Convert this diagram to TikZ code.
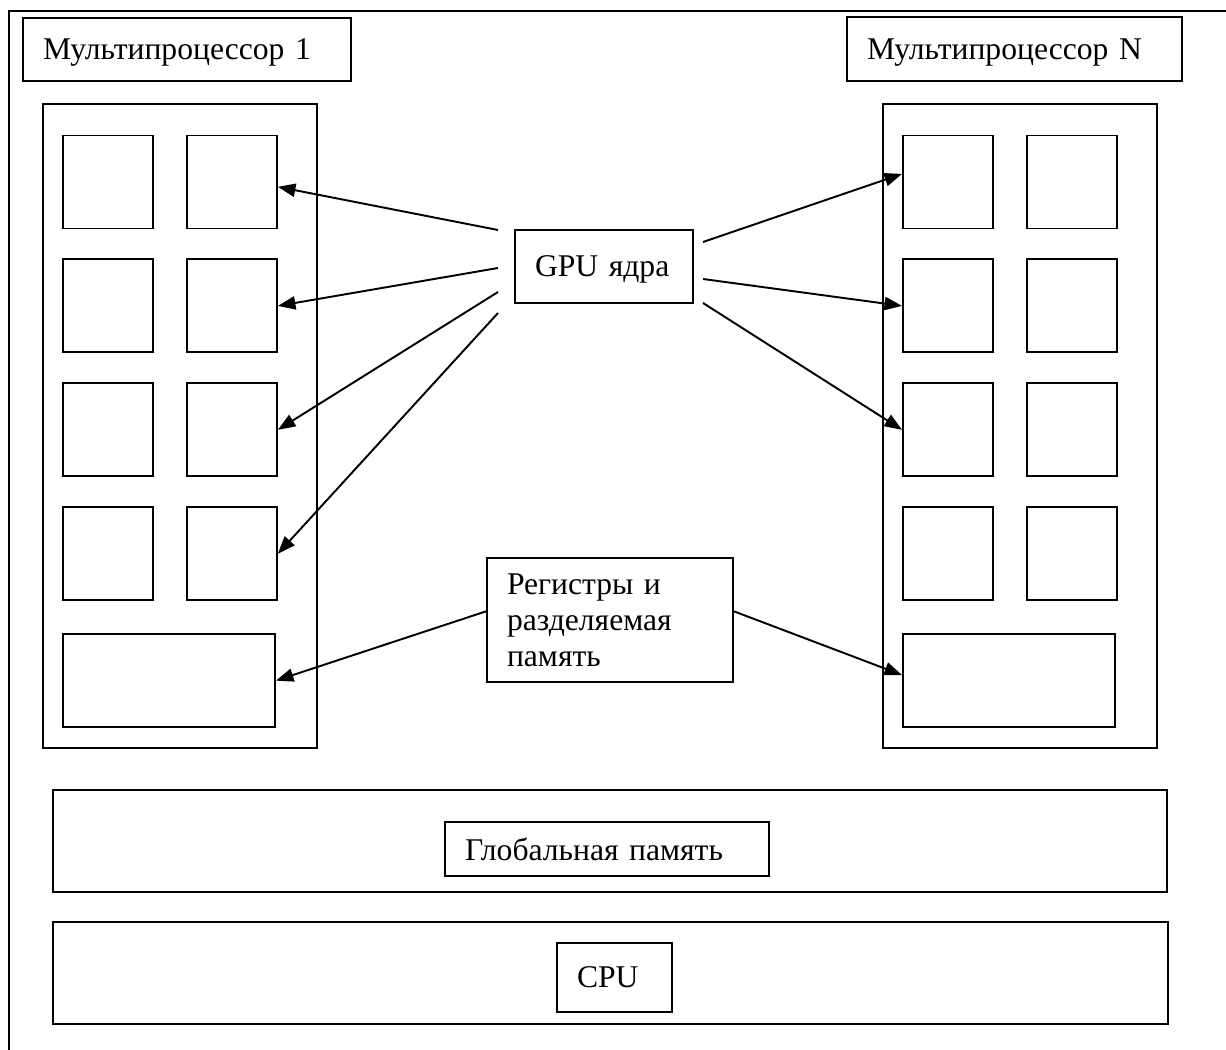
\documentclass[tikz,border=0pt]{standalone}
\usepackage{fontspec}
\setmainfont{Liberation Serif}
\usetikzlibrary{positioning}
\usetikzlibrary{arrows.meta}
\tikzstyle{arrow} = [line width=1.1pt,-{Triangle[length=10pt,width=7.5pt]}]
\tikzstyle{box} = [draw,line width=1.1pt,rectangle,inner sep=0pt]
\tikzstyle{title} = [draw,line width=1.1pt,rectangle,inner xsep=0.4cm,inner ysep=0pt,text depth=0pt,align=left,font=\fontsize{18}{20.5}\selectfont]
\tikzstyle{core} = [box,minimum width=1.8cm,minimum height=1.86cm]

\begin{document}
\begin{tikzpicture}[x=0.02cm,y=-0.02cm]
	\useasboundingbox (0,0) rectangle (1226,1050);
	
	%Frame
	\draw[line width=1.1pt] (9,1050) -- (9,11) -- (1226,11);
	
	%Nodes
	\node[title,text width=5.76cm,minimum height=1.26cm] (mpOne) at (187,49.5) {Мультипроцессор 1};
	\node[title,text width=5.9cm,minimum height=1.28cm] (mpN) at (1014.5,49) {Мультипроцессор N};
	\node[box,minimum width=5.48cm,minimum height=12.88cm] (leftMP) at (180,426) {};
	\node[box,minimum width=5.48cm,minimum height=12.88cm] (rightMP) at (1020,426) {};
	\node[title,text width=2.76cm,minimum height=1.46cm] (gpu) at (604,266.5) {GPU ядра};
	\node[title,text width=4.12cm,minimum height=2.48cm,text depth=] (reg) at (610,620) {Регистры и\\разделяемая\\память};
	
	%Cores left
	\node[core] (l11) at (108,182) {};
	\node[core,right=0.64cm of l11] (l12) {};
	\node[core,below=0.58cm of l11] (l21) {};
	\node[core,right=0.64cm of l21] (l22) {};
	\node[core,below=0.58cm of l21] (l31) {};
	\node[core,right=0.64cm of l31] (l32) {};
	\node[core,below=0.58cm of l31] (l41) {};
	\node[core,right=0.64cm of l41] (l42) {};
	\node[box,minimum width=4.24cm,minimum height=1.86cm,below right=0.64cm and 0cm of l41.south west] (lMem) {};
	
	%Cores right
	\node[core] (r11) at (948,182) {};
	\node[core,right=0.64cm of r11] (r12) {};
	\node[core,below=0.58cm of r11] (r21) {};
	\node[core,right=0.64cm of r21] (r22) {};
	\node[core,below=0.58cm of r21] (r31) {};
	\node[core,right=0.64cm of r31] (r32) {};
	\node[core,below=0.58cm of r31] (r41) {};
	\node[core,right=0.64cm of r41] (r42) {};
	\node[box,minimum width=4.24cm,minimum height=1.86cm,below right=0.64cm and 0cm of r41.south west] (rMem) {};
	
	%Memory and CPU
	\node[box,minimum width=22.28cm,minimum height=2.04cm] (globalMem) at (610,841) {};
	\node[title,text width=5.68cm,minimum height=1.08cm] (globalLbl) at (607,849) {Глобальная память};
	\node[box,minimum width=22.3cm,minimum height=2.04cm] (cpuBox) at (610.5,973) {};
	\node[title,text width=1.5cm,minimum height=1.38cm] (cpuLbl) at (614.5,977.5) {CPU};
	
	%Coordinates
	\coordinate (gpuA) at (498,230);
	\coordinate (gpuB) at (498,268);
	\coordinate (gpuC) at (498,292);
	\coordinate (gpuD) at (498,313);
	\coordinate (gpuE) at (703,242);
	\coordinate (gpuF) at (703,279);
	\coordinate (gpuG) at (703,303);
	
	%Arrows
	\draw[arrow] (gpuA) -- (l12.354);
	\draw[arrow] (gpuB) -- (l22.east);
	\draw[arrow] (gpuC) -- (l32.east);
	\draw[arrow] (gpuD) -- (l42.east);
	\draw[arrow] (gpuE) -- (r11.170);
	\draw[arrow] (gpuF) -- (r21.west);
	\draw[arrow] (gpuG) -- (r31.west);
	\draw[arrow] (reg.176) -- (lMem.east);
	\draw[arrow] (reg.4) -- (rMem.177);
\end{tikzpicture}
\end{document}
